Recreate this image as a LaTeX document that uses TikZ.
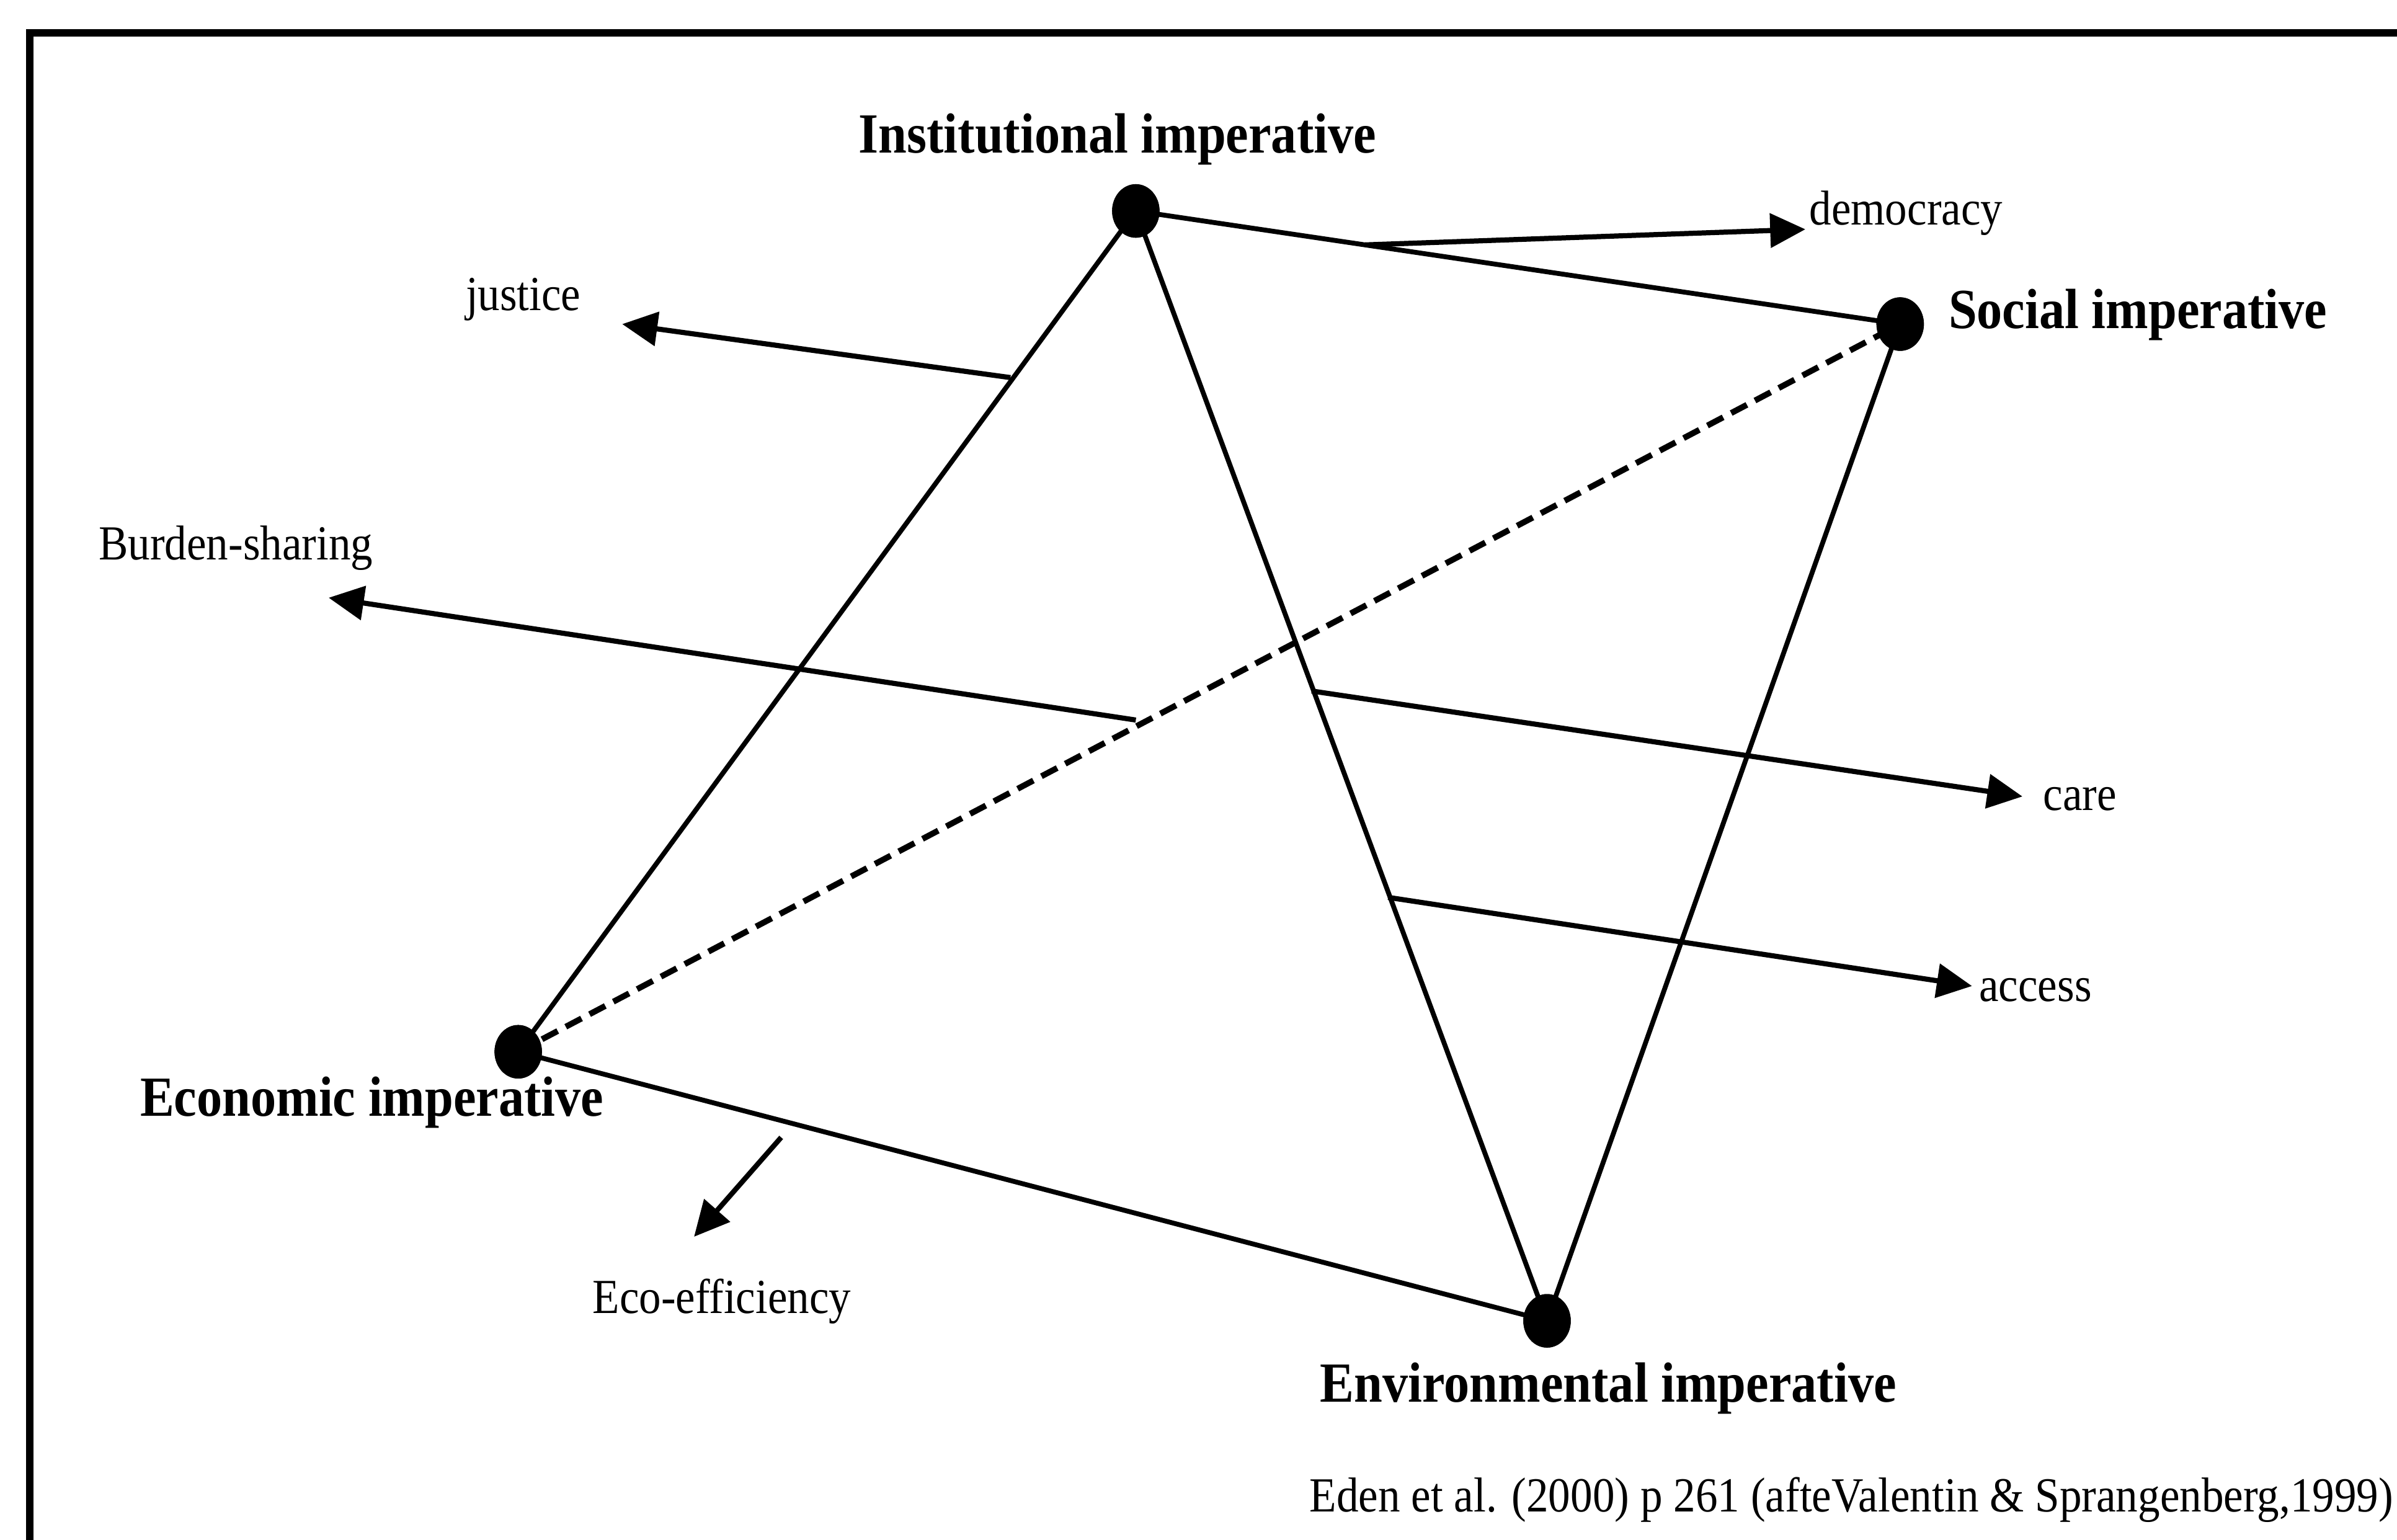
\documentclass[tikz,border=0pt]{standalone}
\usepackage{fontspec}
\setmainfont{Liberation Serif}
\newfontfamily\figfont[FakeStretch=0.9]{Liberation Serif}
\usetikzlibrary{arrows.meta,shapes.geometric,calc}
\begin{document}
\begin{tikzpicture}[x=0.01cm,y=-0.01cm,
  vertex/.style={ellipse,fill=black,minimum width=0.31cm,minimum height=0.35cm,inner sep=0pt},
  edge/.style={line width=0.9pt},
  hidden/.style={line width=1.1pt,dash pattern=on 3.3pt off 1.7pt},
  flow/.style={line width=0.95pt,-{Triangle[length=0.23cm,width=0.22cm]}},
  head/.style={font=\figfont\fontsize{10.55}{12}\selectfont\bfseries,anchor=base west,inner sep=0pt},
  term/.style={font=\figfont\fontsize{9.1}{11}\selectfont,anchor=base west,inner sep=0pt},
  cite/.style={font=\figfont\fontsize{9.12}{11}\selectfont,anchor=base west,inner sep=0pt},
  frame/.style={line width=1.4pt}]
\useasboundingbox (0,0) rectangle (1568,1007);

% open frame: left and top edges only
\draw[frame] (19.5,1060) -- (19.5,21.5) -- (1620,21.5);

% the four imperatives
\node[vertex] (ins) at (743,138) {};
\node[vertex] (soc) at (1243,212) {};
\node[vertex] (eco) at (339,688) {};
\node[vertex] (env) at (1012,864) {};

% tetrahedron edges
\draw[edge] (ins.center) -- (soc.center);
\draw[edge] (ins.center) -- (eco.center);
\draw[edge] (ins.center) -- (env.center);
\draw[edge] (soc.center) -- (env.center);
\draw[edge] (eco.center) -- (env.center);
\draw[hidden] (eco.center) -- (soc.center);

% arrow start and end points
\coordinate (demS) at ($(ins.center)!0.3!(soc.center)$);
\coordinate (demT) at (1181,150);
\coordinate (jusS) at (661,247);
\coordinate (jusT) at (407,212);
\coordinate (burS) at (743,471);
\coordinate (burT) at (215,391);
\coordinate (carS) at (858,452);
\coordinate (carT) at (1323,521);
\coordinate (accS) at (908,587);
\coordinate (accT) at (1290,645);
\coordinate (effS) at (511,744);
\coordinate (effT) at (454,809);

\draw[flow] (demS) -- (demT);
\draw[flow] (jusS) -- (jusT);
\draw[flow] (burS) -- (burT);
\draw[flow] (carS) -- (carT);
\draw[flow] (accS) -- (accT);
\draw[flow] (effS) -- (effT);

% dots on top of the line ends
\fill (ins) ellipse [x radius=0.155cm, y radius=0.175cm];
\fill (soc) ellipse [x radius=0.155cm, y radius=0.175cm];
\fill (eco) ellipse [x radius=0.155cm, y radius=0.175cm];
\fill (env) ellipse [x radius=0.155cm, y radius=0.175cm];

% labels
\node[head] (insL) at (561,100) {Institutional imperative};
\node[head] (socL) at (1274,215) {Social imperative};
\node[head] (ecoL) at (91,730) {Economic imperative};
\node[head] (envL) at (863,917) {Environmental imperative};

\node[term] (demL) at (1183,147) {democracy};
\node[term] (jusL) at (304,203) {justice};
\node[term] (burL) at (64,366) {Burden-sharing};
\node[term] (carL) at (1336,530) {care};
\node[term] (accL) at (1294,655) {access};
\node[term] (effL) at (387,859) {Eco-efficiency};

\node[cite] (src) at (856,989) {Eden et al. (2000) p 261 (afteValentin \& Sprangenberg,1999)};
\end{tikzpicture}
\end{document}
